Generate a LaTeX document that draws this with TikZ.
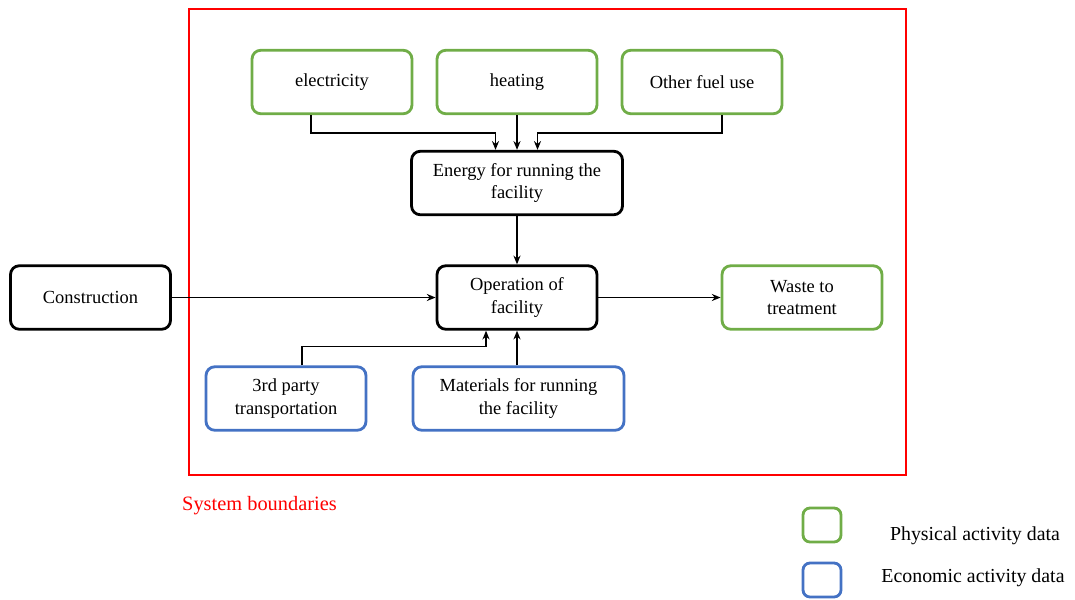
\documentclass[tikz,border=0pt]{standalone}
\usepackage{fontspec}
\setmainfont{Liberation Serif}
\usetikzlibrary{arrows.meta}

\definecolor{physgreen}{RGB}{112,173,71}
\definecolor{econblue}{RGB}{68,114,196}

\tikzset{
  box/.style={draw, line width=1.6pt, rounded corners=5pt, fill=white,
    minimum width=3.2cm, minimum height=1.27cm, align=center,
    font=\fontsize{10.5pt}{13pt}\selectfont, inner sep=2pt},
  procbox/.style={box, draw=black},
  physbox/.style={box, draw=physgreen},
  econbox/.style={box, draw=econblue},
  widebox/.style={minimum width=4.22cm},
  conn/.style={draw, line width=0.8pt, -{Stealth[length=5pt,width=4pt]}},
  legbox/.style={draw, line width=1.6pt, rounded corners=4pt,
    minimum width=0.76cm, minimum height=0.68cm}
}

\begin{document}
\begin{tikzpicture}[x=0.02cm,y=-0.02cm]
\useasboundingbox (0,0) rectangle (1075,599);

% system boundary
\draw[red, line width=0.8pt] (189,9) rectangle (906,475);
\node[red, anchor=west, font=\fontsize{11.6pt}{13pt}\selectfont] (sysb) at (176,506) {System boundaries};

% energy inputs
\node[physbox] (elec) at (332,82) {electricity};
\node[physbox] (heat) at (517,82) {heating};
\node[physbox] (fuel) at (702,82) {Other fuel use};
\node[procbox, widebox] (energy) at (517,183) {Energy for running the\\facility};

% main line
\node[procbox] (constr) at (90.5,297.5) {Construction};
\node[procbox] (oper) at (517,297.5) {Operation of\\facility};
\node[physbox] (waste) at (802,297.5) {Waste to\\treatment};

% lower inputs
\node[econbox] (third) at (286,398.5) {3rd party\\transportation};
\node[econbox, widebox] (mater) at (518.5,398.5) {Materials for running\\the facility};

% connectors
\draw[conn] ([xshift=-0.42cm]elec.south) -- ++(0,18) -| ([xshift=-0.43cm]energy.north);
\draw[conn] (heat.south) -- (energy.north);
\draw[conn] ([xshift=0.4cm]fuel.south) -- ++(0,18) -| ([xshift=0.41cm]energy.north);
\draw[conn] (energy.south) -- (oper.north);
\draw[conn] (constr.east) -- (oper.west);
\draw[conn] (oper.east) -- (waste.west);
\draw[conn] ([xshift=0.32cm]third.north) -- ++(0,-19) -| ([xshift=-0.62cm]oper.south);
\draw[conn] (oper.south |- mater.north) -- (oper.south);

% legend
\node[legbox, draw=physgreen] (legphys) at (822,525) {};
\node[legbox, draw=econblue] (legecon) at (822,580) {};
\node[font=\fontsize{11.3pt}{13pt}\selectfont] (physlab) at (975,536) {Physical activity data};
\node[font=\fontsize{11.3pt}{13pt}\selectfont] (econlab) at (973,578) {Economic activity data};
\end{tikzpicture}
\end{document}
